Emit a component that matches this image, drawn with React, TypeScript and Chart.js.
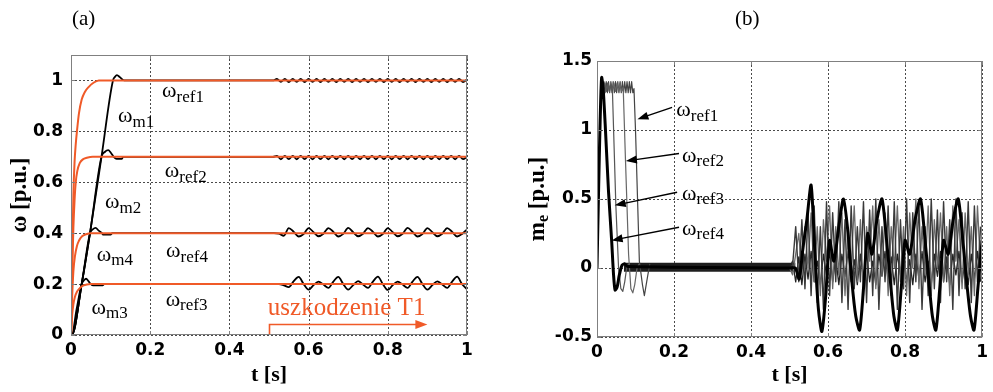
import React, { useEffect, useRef } from "react";
import { Chart, registerables } from "chart.js";
Chart.register(...registerables);

// ---------- axis ticks ----------
const xTickVals = [0, 0.2, 0.4, 0.6, 0.8, 1];
const xTickLabels = ["0", "0.2", "0.4", "0.6", "0.8", "1"];
const yTickValsA = [0, 0.2, 0.4, 0.6, 0.8, 1];
const yTickLabelsA = ["0", "0.2", "0.4", "0.6", "0.8", "1"];
const yTickValsB = [-0.5, 0, 0.5, 1, 1.5];
const yTickLabelsB = ["-0.5", "0", "0.5", "1", "1.5"];

// ---------- (a) reference speeds ----------
const ref1T = [0, 0.003, 0.006, 0.009, 0.012, 0.015, 0.02, 0.027, 0.035, 0.045, 0.056, 0.07, 1];
const ref1V = [0, 0.3, 0.55, 0.68, 0.75, 0.8, 0.87, 0.925, 0.955, 0.975, 0.99, 1, 1];
const ref2T = [0, 0.003, 0.006, 0.009, 0.012, 0.016, 0.022, 0.03, 0.04, 0.055, 1];
const ref2V = [0, 0.25, 0.42, 0.53, 0.6, 0.645, 0.675, 0.69, 0.696, 0.7, 0.7];
const ref4T = [0, 0.003, 0.006, 0.01, 0.015, 0.02, 0.028, 0.038, 0.05, 1];
const ref4V = [0, 0.15, 0.25, 0.31, 0.35, 0.37, 0.388, 0.396, 0.4, 0.4];
const ref3T = [0, 0.003, 0.006, 0.01, 0.015, 0.02, 0.028, 0.04, 0.05, 1];
const ref3V = [0, 0.08, 0.12, 0.15, 0.17, 0.18, 0.192, 0.198, 0.2, 0.2];

// ---------- (a) measured speeds, start-up ----------
const m1T = [0, 0.002, 0.027, 0.048, 0.077, 0.106, 0.111, 0.116, 0.124, 0.134, 0.14, 0.5];
const m1V = [0, 0, 0.2, 0.4, 0.7, 1.0, 1.014, 1.021, 1.012, 1.0, 1.0, 1.0];
const m2T = [0, 0.002, 0.027, 0.048, 0.077, 0.086, 0.094, 0.101, 0.108, 0.115, 0.128, 0.132, 0.5];
const m2V = [0, 0, 0.2, 0.4, 0.7, 0.72, 0.726, 0.715, 0.7, 0.692, 0.692, 0.7, 0.7];
const m4T = [0, 0.002, 0.027, 0.048, 0.055, 0.062, 0.07, 0.078, 0.082, 0.1, 0.104, 0.5];
const m4V = [0, 0, 0.2, 0.4, 0.415, 0.421, 0.41, 0.4, 0.394, 0.394, 0.4, 0.4];
const m3T = [0, 0.002, 0.014, 0.027, 0.033, 0.038, 0.044, 0.05, 0.056, 0.08, 0.084, 0.5];
const m3V = [0, 0, 0.1, 0.2, 0.215, 0.221, 0.212, 0.2, 0.195, 0.195, 0.2, 0.2];

// ---------- (a) measured speeds after fault (t = 0.5 .. 1) ----------
const rippleStart = 0.5;
const rippleStep = 0.01;
const m1Fault = [1, 1, 1.006, 0.995, 1.006, 0.994, 1.006, 0.995, 1.006, 0.994, 1.006, 0.995, 1.006, 0.994, 1.006, 0.995, 1.006, 0.994, 1.006, 0.995, 1.006, 0.994, 1.006, 0.995, 1.006, 0.994, 1.006, 0.995, 1.006, 0.994, 1.006, 0.995, 1.006, 0.994, 1.006, 0.995, 1.006, 0.994, 1.006, 0.995, 1.006, 0.994, 1.006, 0.995, 1.006, 0.994, 1.006, 0.995, 1.006, 0.994, 1.004];
const m2Fault = [0.7, 0.7, 0.704, 0.69, 0.704, 0.691, 0.704, 0.69, 0.704, 0.691, 0.704, 0.69, 0.704, 0.691, 0.704, 0.69, 0.704, 0.691, 0.704, 0.69, 0.704, 0.691, 0.704, 0.69, 0.704, 0.691, 0.704, 0.69, 0.704, 0.691, 0.704, 0.69, 0.704, 0.691, 0.704, 0.69, 0.704, 0.691, 0.704, 0.69, 0.704, 0.691, 0.704, 0.69, 0.704, 0.691, 0.704, 0.69, 0.704, 0.691, 0.7];
const waveStart = 0.5;
const waveStep = 0.0125;
const m4Fault = [0.4, 0.4, 0.398, 0.39, 0.42, 0.405, 0.387, 0.397, 0.42, 0.404, 0.388, 0.398, 0.42, 0.405, 0.387, 0.397, 0.421, 0.404, 0.388, 0.398, 0.42, 0.405, 0.387, 0.397, 0.42, 0.404, 0.388, 0.398, 0.421, 0.405, 0.387, 0.397, 0.42, 0.404, 0.388, 0.398, 0.42, 0.405, 0.387, 0.397, 0.415];
const m3Fault = [0.2, 0.2, 0.2, 0.195, 0.188, 0.212, 0.228, 0.2, 0.178, 0.196, 0.21, 0.198, 0.185, 0.21, 0.228, 0.2, 0.178, 0.196, 0.212, 0.198, 0.185, 0.21, 0.229, 0.2, 0.177, 0.196, 0.21, 0.198, 0.185, 0.21, 0.228, 0.2, 0.178, 0.196, 0.211, 0.198, 0.185, 0.21, 0.229, 0.2, 0.18];

// ---------- (b) electromagnetic torque ----------
const te4T = [0, 0.004, 0.008, 0.012, 0.016, 0.022, 0.03, 0.038, 0.043, 0.047, 0.052, 0.058, 0.065, 0.072, 0.08, 0.5, 0.515, 0.525, 0.535, 0.545, 0.556, 0.566, 0.575, 0.584, 0.594, 0.604, 0.615, 0.628, 0.64, 0.652, 0.662, 0.672, 0.682, 0.692, 0.703, 0.714, 0.727, 0.74, 0.752, 0.762, 0.771, 0.78, 0.79, 0.8, 0.812, 0.826, 0.84, 0.852, 0.862, 0.871, 0.88, 0.89, 0.9, 0.912, 0.925, 0.938, 0.95, 0.96, 0.97, 0.979, 0.989, 1.0];
const te4V = [0, 0.55, 1.05, 1.38, 1.3, 1.0, 0.55, 0.2, -0.05, -0.16, -0.14, -0.05, 0.02, 0.03, 0.01, 0.0, 0.0, -0.08, 0.15, 0.35, 0.6, 0.1, -0.3, -0.46, -0.2, 0.2, 0.05, 0.3, 0.5, 0.25, -0.1, -0.35, -0.45, -0.15, 0.25, 0.1, 0.35, 0.5, 0.2, -0.1, -0.35, -0.45, -0.15, 0.2, 0.1, 0.35, 0.5, 0.2, -0.1, -0.35, -0.45, -0.15, 0.2, 0.1, 0.35, 0.5, 0.2, -0.1, -0.35, -0.45, -0.15, 0.2];
const te3T = [0, 0.004, 0.008, 0.012, 0.016, 0.02, 0.024, 0.028, 0.032, 0.036, 0.04, 0.049, 0.056, 0.062, 0.067, 0.072, 0.078, 0.085];
const te3V = [0, 0.55, 1.05, 1.37, 1.3, 1.34, 1.28, 1.34, 1.28, 1.33, 1.29, 0.45, 0.0, -0.15, -0.17, -0.1, 0.02, 0.03];
const te2T = [0, 0.004, 0.008, 0.012, 0.016, 0.02, 0.024, 0.028, 0.032, 0.036, 0.04, 0.044, 0.048, 0.052, 0.056, 0.06, 0.064, 0.068, 0.074, 0.082, 0.088, 0.093, 0.098, 0.104, 0.11];
const te2V = [0, 0.55, 1.05, 1.36, 1.29, 1.34, 1.28, 1.34, 1.28, 1.34, 1.28, 1.34, 1.28, 1.34, 1.28, 1.34, 1.28, 1.31, 0.78, 0.1, -0.15, -0.18, -0.12, 0.0, 0.03];
const te1T = [0, 0.004, 0.008, 0.012, 0.015, 0.018, 0.021, 0.024, 0.027, 0.03, 0.033, 0.036, 0.039, 0.042, 0.045, 0.048, 0.051, 0.054, 0.057, 0.06, 0.063, 0.066, 0.069, 0.072, 0.075, 0.078, 0.081, 0.084, 0.087, 0.09, 0.093, 0.096, 0.1, 0.11, 0.118, 0.123, 0.129, 0.137];
const te1V = [0, 0.55, 1.05, 1.37, 1.28, 1.35, 1.27, 1.35, 1.27, 1.35, 1.27, 1.35, 1.27, 1.35, 1.27, 1.35, 1.27, 1.35, 1.27, 1.35, 1.27, 1.35, 1.27, 1.35, 1.27, 1.35, 1.27, 1.35, 1.27, 1.35, 1.27, 1.3, 1.0, 0.05, -0.12, -0.2, -0.1, 0.03];
const steadyT = [0.07, 0.515];
const steadyV = [0.005, 0.005];
const faultStart = 0.5;
const faultStep = 0.008;
const teFaultA = [0.0, 0.02, 0.3, -0.1, 0.35, -0.15, 0.4, -0.2, 0.45, -0.25, 0.3, -0.3, 0.48, -0.2, 0.4, -0.1, 0.48, -0.25, 0.35, -0.3, 0.45, -0.15, 0.3, -0.1, 0.48, -0.25, 0.42, -0.2, 0.5, -0.3, 0.3, -0.1, 0.45, -0.2, 0.48, -0.3, 0.35, -0.15, 0.5, -0.25, 0.4, -0.1, 0.48, -0.3, 0.3, -0.2, 0.5, -0.15, 0.42, -0.25, 0.48, -0.1, 0.35, -0.3, 0.5, -0.2, 0.4, -0.15, 0.48, -0.25, 0.45, -0.1, 0.3];
const teFaultB = [0.0, -0.05, 0.1, 0.25, -0.05, 0.3, 0.0, 0.4, -0.1, 0.3, -0.2, 0.35, 0.05, 0.45, -0.15, 0.3, -0.05, 0.4, -0.2, 0.25, 0.0, 0.45, -0.1, 0.35, -0.2, 0.3, 0.05, 0.45, -0.15, 0.35, -0.05, 0.4, -0.2, 0.3, 0.0, 0.45, -0.1, 0.3, -0.2, 0.4, 0.0, 0.5, -0.15, 0.3, -0.05, 0.45, -0.2, 0.35, 0.0, 0.4, -0.1, 0.3, -0.2, 0.45, 0.05, 0.35, -0.15, 0.4, -0.05, 0.3, -0.2, 0.45, 0.0];
const teFaultC = [0.0, 0.05, -0.1, 0.08, -0.12, 0.1, -0.08, 0.12, -0.1, 0.05, -0.12, 0.1, -0.05, 0.12, -0.1, 0.08, -0.12, 0.1, -0.06, 0.12, -0.1, 0.06, -0.12, 0.1, -0.08, 0.12, -0.1, 0.05, -0.12, 0.1, -0.06, 0.12, -0.1, 0.08, -0.12, 0.1, -0.05, 0.12, -0.1, 0.06, -0.12, 0.1, -0.08, 0.12, -0.1, 0.05, -0.12, 0.1, -0.06, 0.12, -0.1, 0.08, -0.12, 0.1, -0.05, 0.12, -0.1, 0.06, -0.12, 0.1, -0.08, 0.12, -0.1];

// ---------- styling ----------
const ORANGE = "#F05A28";
const GRID = "#4a4a4a";
const FRAME = "#808080";
const SERIF = '"Liberation Serif", "Times New Roman", serif';
const SANS = '"DejaVu Sans", Arial, sans-serif';
const tickFont = { family: SANS, size: 17, weight: "bold" as const };

// annotation placement (data coordinates)
const labelPosA = [
  { t: 0.23, v: 0.957, sub: "ref1" },
  { t: 0.119, v: 0.858, sub: "m1" },
  { t: 0.237, v: 0.643, sub: "ref2" },
  { t: 0.086, v: 0.52, sub: "m2" },
  { t: 0.24, v: 0.328, sub: "ref4" },
  { t: 0.065, v: 0.315, sub: "m4" },
  { t: 0.239, v: 0.138, sub: "ref3" },
  { t: 0.052, v: 0.106, sub: "m3" },
];
const labelPosB = [
  { t: 0.206, v: 1.14, sub: "ref1", from: [0.195, 1.164], to: [0.105, 1.078] },
  { t: 0.221, v: 0.813, sub: "ref2", from: [0.213, 0.83], to: [0.075, 0.775] },
  { t: 0.221, v: 0.538, sub: "ref3", from: [0.208, 0.549], to: [0.046, 0.454] },
  { t: 0.221, v: 0.284, sub: "ref4", from: [0.213, 0.295], to: [0.038, 0.2] },
];

const zip = (xs: number[], ys: number[]) => xs.map((x, i) => ({ x, y: ys[i] }));
const series = (start: number, step: number, ys: number[]) => ys.map((y, i) => ({ x: +(start + i * step).toFixed(4), y }));

function drawSub(ctx: CanvasRenderingContext2D, x: number, y: number, main: string, sub: string, color: string) {
  ctx.fillStyle = color;
  ctx.textAlign = "left";
  ctx.textBaseline = "middle";
  ctx.font = `22px ${SERIF}`;
  ctx.fillText(main, x, y);
  const w = ctx.measureText(main).width;
  ctx.font = `17px ${SERIF}`;
  ctx.fillText(sub, x + w, y + 6);
}

function arrowHead(ctx: CanvasRenderingContext2D, x1: number, y1: number, x2: number, y2: number, len: number, half: number) {
  const a = Math.atan2(y2 - y1, x2 - x1);
  ctx.beginPath();
  ctx.moveTo(x2, y2);
  ctx.lineTo(x2 - len * Math.cos(a) + half * Math.sin(a), y2 - len * Math.sin(a) - half * Math.cos(a));
  ctx.lineTo(x2 - len * Math.cos(a) - half * Math.sin(a), y2 - len * Math.sin(a) + half * Math.cos(a));
  ctx.closePath();
  ctx.fill();
}

function drawYTitle(ctx: CanvasRenderingContext2D, cx: number, cy: number, parts: { text: string; size: number; dy: number }[]) {
  ctx.save();
  ctx.translate(cx, cy);
  ctx.rotate(-Math.PI / 2);
  ctx.fillStyle = "#000";
  ctx.textBaseline = "middle";
  ctx.textAlign = "left";
  let total = 0;
  const widths = parts.map((p) => {
    ctx.font = `bold ${p.size}px ${SERIF}`;
    const w = ctx.measureText(p.text).width;
    total += w;
    return w;
  });
  let x = -total / 2;
  parts.forEach((p, i) => {
    ctx.font = `bold ${p.size}px ${SERIF}`;
    ctx.fillText(p.text, x, p.dy);
    x += widths[i];
  });
  ctx.restore();
}

const gridFramePlugin = {
  id: "gridFrame",
  beforeDatasetsDraw(chart: any) {
    const { ctx, chartArea: a } = chart;
    const xs = chart.scales.x;
    const ys = chart.scales.y;
    ctx.save();
    ctx.strokeStyle = GRID;
    ctx.lineWidth = 1;
    ctx.setLineDash([2, 2]);
    ctx.beginPath();
    for (const t of xs.ticks) {
      const px = Math.round(xs.getPixelForValue(t.value)) + 0.5;
      ctx.moveTo(px, a.top);
      ctx.lineTo(px, a.bottom);
    }
    for (const t of ys.ticks) {
      const py = Math.round(ys.getPixelForValue(t.value)) + 0.5;
      ctx.moveTo(a.left, py);
      ctx.lineTo(a.right, py);
    }
    ctx.stroke();
    ctx.restore();
  },
  afterDraw(chart: any) {
    const { ctx, chartArea: a } = chart;
    ctx.save();
    ctx.setLineDash([]);
    ctx.strokeStyle = FRAME;
    ctx.lineWidth = 1;
    ctx.strokeRect(Math.round(a.left) + 0.5, Math.round(a.top) + 0.5, Math.round(a.right - a.left) - 1, Math.round(a.bottom - a.top) - 1);
    ctx.beginPath();
    const xs = chart.scales.x;
    const ys = chart.scales.y;
    for (const t of xs.ticks) {
      const px = Math.round(xs.getPixelForValue(t.value)) + 0.5;
      ctx.moveTo(px, a.bottom);
      ctx.lineTo(px, a.bottom - 4);
      ctx.moveTo(px, a.top);
      ctx.lineTo(px, a.top + 4);
    }
    for (const t of ys.ticks) {
      const py = Math.round(ys.getPixelForValue(t.value)) + 0.5;
      ctx.moveTo(a.left, py);
      ctx.lineTo(a.left + 4, py);
      ctx.moveTo(a.right, py);
      ctx.lineTo(a.right - 4, py);
    }
    ctx.stroke();
    ctx.restore();
  },
};

function axes(yVals: number[], yLabels: string[], yMin: number, yMax: number, yWidth: number, yPad: number, xHeight: number) {
  return {
    x: {
      type: "linear",
      min: 0,
      max: 1,
      afterBuildTicks: (s: any) => {
        s.ticks = xTickVals.map((v) => ({ value: v }));
      },
      afterFit: (s: any) => {
        s.height = xHeight;
      },
      ticks: {
        autoSkip: false,
        maxRotation: 0,
        padding: 5,
        color: "#000",
        font: tickFont,
        callback: (_v: any, i: number) => xTickLabels[i],
      },
      grid: { display: false, drawTicks: false },
      border: { display: false },
      title: {
        display: true,
        text: "t [s]",
        color: "#000",
        font: { family: SERIF, size: 22, weight: "bold" },
        padding: { top: 0, bottom: 3 },
      },
    },
    y: {
      type: "linear",
      min: yMin,
      max: yMax,
      afterBuildTicks: (s: any) => {
        s.ticks = yVals.map((v) => ({ value: v }));
      },
      afterFit: (s: any) => {
        s.width = yWidth;
      },
      ticks: {
        autoSkip: false,
        padding: yPad,
        color: "#000",
        font: tickFont,
        callback: (_v: any, i: number) => yLabels[i],
      },
      grid: { display: false, drawTicks: false },
      border: { display: false },
    },
  };
}

function configA(): any {
  const decor = {
    id: "decorA",
    afterDatasetsDraw(chart: any) {
      const { ctx } = chart;
      const xs = chart.scales.x;
      const ys = chart.scales.y;
      ctx.save();
      for (const l of labelPosA) {
        drawSub(ctx, xs.getPixelForValue(l.t), ys.getPixelForValue(l.v), "ω", l.sub, "#000");
      }
      // fault marker
      ctx.strokeStyle = ORANGE;
      ctx.fillStyle = ORANGE;
      ctx.lineWidth = 1.6;
      const x0 = Math.round(xs.getPixelForValue(0.5)) + 0.5;
      const y0 = ys.getPixelForValue(0);
      const y1 = Math.round(ys.getPixelForValue(0.043)) + 0.5;
      const x1 = xs.getPixelForValue(0.9);
      ctx.beginPath();
      ctx.moveTo(x0, y0);
      ctx.lineTo(x0, y1);
      ctx.lineTo(x1 - 8, y1);
      ctx.stroke();
      arrowHead(ctx, x0, y1, x1, y1, 12, 4.5);
      ctx.font = `25px ${SERIF}`;
      ctx.textAlign = "left";
      ctx.textBaseline = "alphabetic";
      ctx.fillText("uszkodzenie T1", xs.getPixelForValue(0.497), ys.getPixelForValue(0.079));
      drawYTitle(ctx, 20, 195, [{ text: "ω [p.u.]", size: 23, dy: 0 }]);
      ctx.restore();
    },
  };
  const orange = (data: any) => ({ data, borderColor: ORANGE, borderWidth: 2, order: 0, cubicInterpolationMode: "monotone" });
  const black = (data: any) => ({ data, borderColor: "#000", borderWidth: 1.8, order: 1, cubicInterpolationMode: "monotone" });
  return {
    type: "line",
    data: {
      datasets: [
        orange(zip(ref1T, ref1V)),
        orange(zip(ref2T, ref2V)),
        orange(zip(ref4T, ref4V)),
        orange(zip(ref3T, ref3V)),
        black(zip(m1T, m1V).concat(series(rippleStart, rippleStep, m1Fault).slice(1))),
        black(zip(m2T, m2V).concat(series(rippleStart, rippleStep, m2Fault).slice(1))),
        black(zip(m4T, m4V).concat(series(waveStart, waveStep, m4Fault).slice(1))),
        black(zip(m3T, m3V).concat(series(waveStart, waveStep, m3Fault).slice(1))),
      ],
    },
    options: {
      responsive: false,
      animation: false,
      devicePixelRatio: 1,
      events: [],
      layout: { padding: { top: 55, right: 28, left: 0, bottom: 0 } },
      elements: { point: { radius: 0 }, line: { borderJoinStyle: "round" } },
      plugins: { legend: { display: false }, tooltip: { enabled: false } },
      scales: axes(yTickValsA, yTickLabelsA, 0, 1.1, 71, 8, 57),
    },
    plugins: [gridFramePlugin, decor],
  };
}

function configB(): any {
  const decor = {
    id: "decorB",
    afterDatasetsDraw(chart: any) {
      const { ctx } = chart;
      const xs = chart.scales.x;
      const ys = chart.scales.y;
      ctx.save();
      ctx.strokeStyle = "#000";
      ctx.fillStyle = "#000";
      ctx.lineWidth = 1.4;
      for (const l of labelPosB) {
        const fx = xs.getPixelForValue(l.from[0]);
        const fy = ys.getPixelForValue(l.from[1]);
        const tx = xs.getPixelForValue(l.to[0]);
        const ty = ys.getPixelForValue(l.to[1]);
        ctx.beginPath();
        ctx.moveTo(fx, fy);
        ctx.lineTo(tx + (fx - tx) * 0.15, ty + (fy - ty) * 0.15);
        ctx.stroke();
        arrowHead(ctx, fx, fy, tx, ty, 11, 4);
        drawSub(ctx, xs.getPixelForValue(l.t), ys.getPixelForValue(l.v), "ω", l.sub, "#000");
      }
      drawYTitle(ctx, 43, 199, [
        { text: "m", size: 23, dy: 0 },
        { text: "e", size: 16, dy: 6 },
        { text: " [p.u.]", size: 23, dy: 0 },
      ]);
      ctx.restore();
    },
  };
  return {
    type: "line",
    data: {
      datasets: [
        { data: zip(te4T, te4V), borderColor: "#000", borderWidth: 3, order: 0, tension: 0.25 },
        { data: zip(te3T, te3V), borderColor: "#555", borderWidth: 1.2, order: 1 },
        { data: zip(te2T, te2V), borderColor: "#666", borderWidth: 1.2, order: 1 },
        { data: zip(te1T, te1V), borderColor: "#444", borderWidth: 1.2, order: 1 },
        { data: series(faultStart, faultStep, teFaultA), borderColor: "#3a3a3a", borderWidth: 1.4, order: 1 },
        { data: series(faultStart, faultStep, teFaultB), borderColor: "#6a6a6a", borderWidth: 1.3, order: 1 },
        { data: series(faultStart, faultStep, teFaultC), borderColor: "#222", borderWidth: 1.3, order: 1 },
        { data: zip(steadyT, steadyV), borderColor: "#1e1e1e", borderWidth: 9, borderCapStyle: "butt", order: 2 },
      ],
    },
    options: {
      responsive: false,
      animation: false,
      devicePixelRatio: 1,
      events: [],
      layout: { padding: { top: 61, right: 7, left: 0, bottom: 0 } },
      elements: { point: { radius: 0 }, line: { borderJoinStyle: "round", tension: 0 } },
      plugins: { legend: { display: false }, tooltip: { enabled: false } },
      scales: axes(yTickValsB, yTickLabelsB, -0.5, 1.5, 102, 5, 55),
    },
    plugins: [gridFramePlugin, decor],
  };
}

function Panel({ make, left, width }: { make: () => any; left: number; width: number }) {
  const ref = useRef<HTMLCanvasElement>(null);
  useEffect(() => {
    const chart = new Chart(ref.current as HTMLCanvasElement, make());
    return () => chart.destroy();
  }, []);
  return (
    <canvas
      ref={ref}
      width={width}
      height={392}
      style={{ position: "absolute", left, top: 0, width, height: 392 }}
    />
  );
}

export default function App() {
  const cap: React.CSSProperties = {
    position: "absolute",
    top: 5,
    fontFamily: SERIF,
    fontSize: 21,
    color: "#000",
    lineHeight: "26px",
  };
  return (
    <div style={{ position: "fixed", left: 0, top: 0, width: 993, height: 392, background: "#fff", overflow: "hidden" }}>
      <Panel make={configA} left={0} width={495} />
      <Panel make={configB} left={495} width={498} />
      <div style={{ ...cap, left: 72 }}>(a)</div>
      <div style={{ ...cap, left: 735 }}>(b)</div>
    </div>
  );
}
